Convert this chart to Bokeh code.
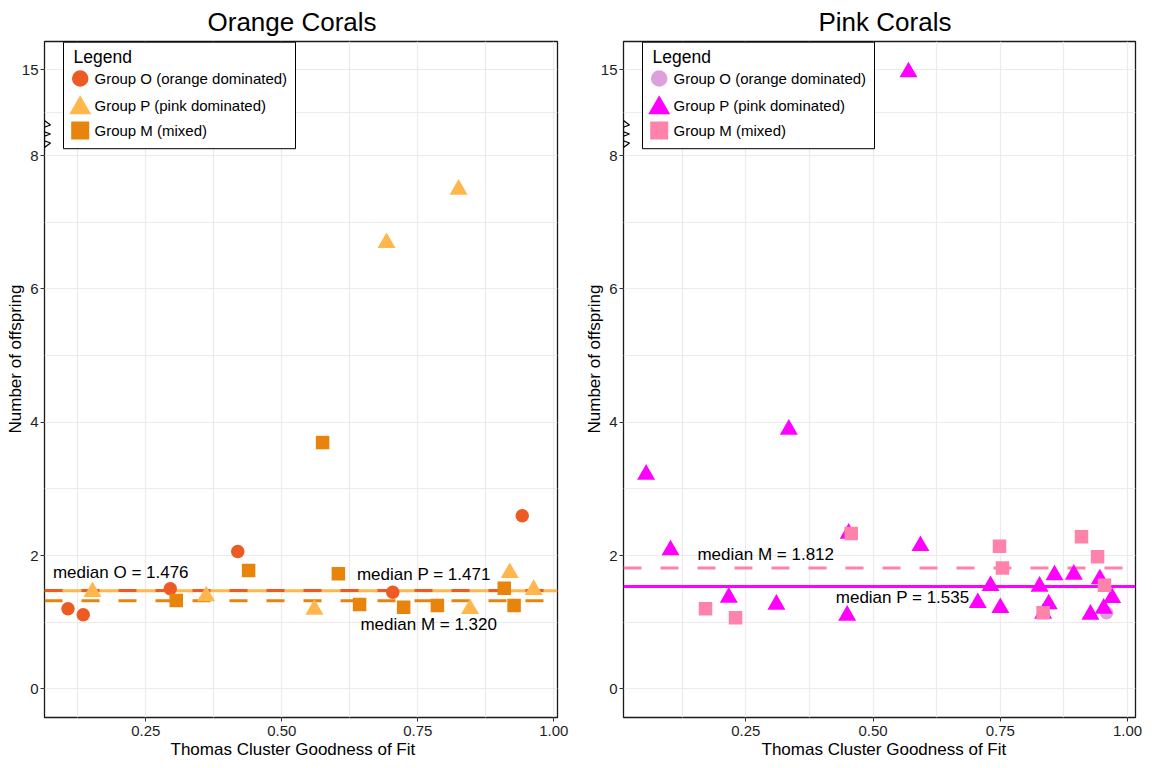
import numpy as np
from bokeh.plotting import figure
from bokeh.models import (Range1d, FixedTicker, CustomJSTickFormatter, Span,
                          PolyAnnotation, Title)
from bokeh.layouts import row
from bokeh.embed import file_html
from bokeh.resources import INLINE
from bokeh.core.properties import value

FONT = "Liberation Sans"

# ---------------- data ----------------
# broken y axis: values above 8 are compressed
BREAK_AT = 8.0
BREAK_SCALE = 0.184

y_tick_values = [0, 2, 4, 6, 8, 15]
y_tick_labels = ["0", "2", "4", "6", "8", "15"]
y_minor_values = [1, 3, 5, 7]
x_tick_values = [0.25, 0.50, 0.75, 1.00]
x_tick_labels = ["0.25", "0.50", "0.75", "1.00"]
x_minor_values = [0.125, 0.375, 0.625, 0.875]

x_axis_title = "Thomas Cluster Goodness of Fit"
y_axis_title = "Number of offspring"
legend_title = "Legend"
group_labels = ["Group O (orange dominated)", "Group P (pink dominated)", "Group M (mixed)"]

# Orange Corals
orange_O_x = [0.107, 0.135, 0.295, 0.419, 0.704, 0.942]
orange_O_y = [1.20, 1.11, 1.502, 2.06, 1.45, 2.595]
orange_P_x = [0.152, 0.361, 0.560, 0.6925, 0.825, 0.846, 0.919, 0.963]
orange_P_y = [1.455, 1.39, 1.19, 6.69, 7.49, 1.20, 1.74, 1.487]
orange_M_x = [0.306, 0.439, 0.575, 0.604, 0.643, 0.724, 0.786, 0.909, 0.927]
orange_M_y = [1.324, 1.775, 3.694, 1.725, 1.264, 1.224, 1.25, 1.51, 1.25]
orange_medians = {"O": 1.476, "P": 1.471, "M": 1.320}

# Pink Corals
pink_O_x = [0.9586]
pink_O_y = [1.14]
pink_P_x = [0.054, 0.102, 0.2165, 0.310, 0.3344, 0.449, 0.452, 0.5695, 0.593,
            0.7057, 0.7307, 0.750, 0.827, 0.834, 0.845, 0.8564, 0.8943, 0.927,
            0.9455, 0.953, 0.9697]
pink_P_y = [3.215, 2.08, 1.37, 1.265, 3.89, 1.10, 2.33, 14.8, 2.145,
            1.29, 1.545, 1.215, 1.535, 1.13, 1.27, 1.705, 1.715, 1.115,
            1.645, 1.205, 1.365]
pink_M_x = [0.1707, 0.2297, 0.457, 0.7483, 0.7542, 0.834, 0.9094, 0.941, 0.9546]
pink_M_y = [1.20, 1.065, 2.33, 2.14, 1.812, 1.14, 2.28, 1.98, 1.555]
pink_medians = {"P": 1.535, "M": 1.812}

# ---------------- styling ----------------
ORANGE_COLORS = {"O": "#EE5A24", "P": "#FFB74D", "M": "#E8830C"}
PINK_COLORS = {"O": "#DDA0DD", "P": "#FF00FF", "M": "#FF82AB"}
MARKERS = {"O": "circle", "P": "triangle", "M": "square"}
PT_SIZE = {"O": 13.5, "P": 18, "M": 13.5}
LEG_SIZE = {"O": 16.5, "P": 22, "M": 18}
FRAME_H = 676
Y_RANGE = (-0.43, 9.71)
DASH = "18 19"


def ybrk(v):
    v = np.asarray(v, dtype=float)
    return np.where(v > BREAK_AT, BREAK_AT + (v - BREAK_AT) * BREAK_SCALE, v)


def tick_formatter(vals, labs):
    return CustomJSTickFormatter(args=dict(vals=list(map(float, vals)), labs=labs), code="""
        for (let i = 0; i < vals.length; i++) {
            if (Math.abs(vals[i] - tick) < 1e-6) return labs[i];
        }
        return '';
    """)


def make_panel(title, title_off, xlab_off, ylab_off, xr, frame_w, border_l, border_r,
               series, colors, medians, median_styles, median_labels):
    p = figure(frame_width=frame_w, frame_height=FRAME_H,
               min_border_left=border_l, min_border_right=border_r,
               min_border_top=41, min_border_bottom=51,
               x_range=Range1d(*xr), y_range=Range1d(*Y_RANGE),
               output_backend="svg", toolbar_location=None,
               background_fill_color="white", border_fill_color="white")

    p.title.text = title
    p.title.align = "left"
    p.title.offset = title_off
    p.title.text_font = FONT
    p.title.text_font_size = "26px"
    p.title.text_font_style = "normal"
    p.title.text_color = "black"
    p.title.standoff = 9

    p.outline_line_color = "#1a1a1a"
    p.outline_line_width = 1.3
    p.outline_line_alpha = 1.0

    ymapped = ybrk(y_tick_values)
    yminor = list(y_minor_values) + [float((ymapped[-2] + ymapped[-1]) / 2)]
    p.yaxis.ticker = FixedTicker(ticks=list(map(float, ymapped)), minor_ticks=yminor)
    p.yaxis.formatter = tick_formatter(ymapped, y_tick_labels)
    p.xaxis.ticker = FixedTicker(ticks=x_tick_values, minor_ticks=x_minor_values)
    p.xaxis.formatter = tick_formatter(x_tick_values, x_tick_labels)

    for ax in (p.xaxis[0], p.yaxis[0]):
        ax.axis_line_color = None
        ax.major_tick_line_color = "#333333"
        ax.major_tick_out = 4
        ax.major_tick_in = 0
        ax.minor_tick_line_color = None
        ax.major_label_text_font = FONT
        ax.major_label_text_font_size = "15px"
        ax.major_label_text_color = "#1e1e1e"
    p.xaxis.major_label_standoff = 4
    p.yaxis.major_label_standoff = 2

    # axis titles as side titles so that they can be shifted along the axis
    p.add_layout(Title(text=x_axis_title, align="left", offset=xlab_off, standoff=-2,
                       text_font=FONT, text_font_size="17px", text_font_style="normal",
                       text_color="black"), "below")
    p.add_layout(Title(text=y_axis_title, align="left", offset=ylab_off, standoff=-13,
                       text_font=FONT, text_font_size="17px", text_font_style="normal",
                       text_color="black"), "left")

    for g in (p.xgrid[0], p.ygrid[0]):
        g.grid_line_color = "#EBEBEB"
        g.grid_line_width = 1.2
        g.minor_grid_line_color = "#EBEBEB"
        g.minor_grid_line_width = 1.2

    # median lines (under the points)
    for key, (dash, width) in median_styles.items():
        p.add_layout(Span(location=medians[key], dimension="width",
                          line_color=colors[key], line_width=width,
                          line_dash=dash, level="underlay"))

    # points
    for key in ("O", "P", "M"):
        xs, ys = series[key]
        p.scatter(x=xs, y=ybrk(ys), marker=MARKERS[key], size=PT_SIZE[key],
                  fill_color=colors[key], line_color=None)

    # median labels
    lx, ly, lt = median_labels
    p.text(x=lx, y=ly, text=lt, text_font=value(FONT), text_font_size="17px",
           text_align="center", text_baseline="middle", text_color="black")

    # helpers: pixel offsets within the frame -> data coords
    x0, x1 = xr
    y0, y1 = Y_RANGE

    def px(dx):
        return x0 + np.asarray(dx, dtype=float) * (x1 - x0) / frame_w

    def py(dy):
        return y1 - np.asarray(dy, dtype=float) * (y1 - y0) / FRAME_H

    # axis break zigzag on the left axis
    zz_dx = [0, 6, -6, 6, -6, 6, 0]
    zz_dy = [79, 83.5, 88, 92.5, 97, 101.5, 106]
    p.add_layout(PolyAnnotation(xs=list(px(zz_dx)), ys=list(py(zz_dy)),
                                fill_alpha=0, line_color="black", line_alpha=1.0,
                                line_width=1.2))

    # legend box
    box_l, box_t, box_w, box_h = 19, 0.7, 232, 106.5
    p.quad(left=[float(px(box_l))], right=[float(px(box_l + box_w))],
           top=[float(py(box_t))], bottom=[float(py(box_t + box_h))],
           fill_color="white", line_color="black", line_width=1, level="overlay")
    p.text(x=[float(px(box_l + 10))], y=[float(py(15))], text=[legend_title],
           text_font=value(FONT), text_font_size="17.5px", text_align="left",
           text_baseline="middle", text_color="black", level="overlay")
    key_dy = {"O": 37, "P": 66.5, "M": 89}
    txt_dy = [37, 64, 89]
    for key in ("O", "P", "M"):
        p.scatter(x=[float(px(box_l + 16.7))], y=[float(py(key_dy[key]))],
                  marker=MARKERS[key], size=LEG_SIZE[key],
                  fill_color=colors[key], line_color=None, level="overlay")
    p.text(x=list(px([box_l + 31] * 3)), y=list(py(txt_dy)), text=group_labels,
           text_font=value(FONT), text_font_size="15px", text_align="left",
           text_baseline="middle", text_color="black", level="overlay")
    return p


p1 = make_panel(
    "Orange Corals", 163, 126, 284, (0.0638, 1.0068), 513, 44, 21,
    {"O": (orange_O_x, orange_O_y), "P": (orange_P_x, orange_P_y), "M": (orange_M_x, orange_M_y)},
    ORANGE_COLORS, orange_medians,
    {"P": ("solid", 3), "O": (DASH, 3), "M": (DASH, 3)},
    ([0.204, 0.761, 0.770], [1.745, 1.714, 0.964],
     ["median O = %.3f" % orange_medians["O"], "median P = %.3f" % orange_medians["P"],
      "median M = %.3f" % orange_medians["M"]]),
)

p2 = make_panel(
    "Pink Corals", 195, 138, 284, (0.0096, 1.0155), 512, 45, 22,
    {"O": (pink_O_x, pink_O_y), "P": (pink_P_x, pink_P_y), "M": (pink_M_x, pink_M_y)},
    PINK_COLORS, pink_medians,
    {"P": ("solid", 3), "M": (DASH, 3)},
    ([0.289, 0.558], [2.016, 1.365],
     ["median M = %.3f" % pink_medians["M"], "median P = %.3f" % pink_medians["P"]]),
)

layout = row(p1, p2)
open("out.html", "w").write(file_html(layout, INLINE))
